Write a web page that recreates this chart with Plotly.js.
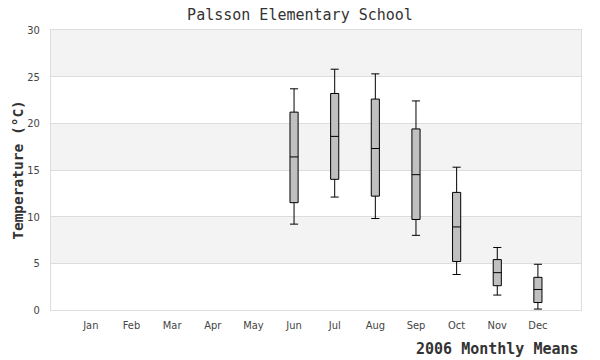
<!DOCTYPE html>
<html><head><meta charset="utf-8">
<script src="https://cdn.plot.ly/plotly-3.0.1.min.js"></script>
<style>body{margin:0}#c{width:600px;height:360px}</style>
</head><body><div id="c"></div>
<script>
const months = ['Jan','Feb','Mar','Apr','May','Jun','Jul','Aug','Sep','Oct','Nov','Dec'];
const lowerWhisker = [null,null,null,null,null,9.2,12.1,9.8,8.0,3.8,1.6,0.1];
const q1Values     = [null,null,null,null,null,11.5,14.0,12.2,9.7,5.2,2.6,0.8];
const medianValues = [null,null,null,null,null,16.4,18.6,17.3,14.5,8.9,4.0,2.2];
const q3Values     = [null,null,null,null,null,21.2,23.2,22.6,19.4,12.6,5.4,3.5];
const upperWhisker = [null,null,null,null,null,23.7,25.8,25.3,22.4,15.3,6.7,4.9];
const yTicks = [0,5,10,15,20,25,30];

// keep only months that have data (others are empty categories)
const idx = months.map((m,i)=>i).filter(i => medianValues[i] !== null);
const pick = arr => idx.map(i => arr[i]);

const shapes = [];
for (let i = 0; i < yTicks.length - 1; i++) {
  if (i % 2 === 1) {
    shapes.push({type:'rect', xref:'paper', yref:'y', x0:0, x1:1, y0:yTicks[i], y1:yTicks[i+1],
      fillcolor:'#f3f3f3', line:{width:0}, layer:'below'});
  }
}

const trace = {
  type:'box', x: pick(months), q1: pick(q1Values), median: pick(medianValues), q3: pick(q3Values),
  lowerfence: pick(lowerWhisker), upperfence: pick(upperWhisker),
  fillcolor:'#c0c0c0', line:{color:'#000', width:1}, whiskerwidth:1,
  width:0.2, boxpoints:false, hoverinfo:'skip', showlegend:false
};

const layout = {
  width:600, height:360, paper_bgcolor:'#fff', plot_bgcolor:'rgba(0,0,0,0)',
  margin:{l:51, r:19, t:30, b:50},
  title:{text:'Palsson Elementary School', x:0.5, xanchor:'center', y:0.975, yanchor:'top',
    font:{family:'DejaVu Sans Mono', size:15, color:'#333'}},
  xaxis:{type:'category', categoryarray: months, categoryorder:'array', range:[-0.98,12.06],
    showgrid:false, zeroline:false, ticks:'outside', ticklen:5, tickcolor:'rgba(0,0,0,0)',
    showline:true, linecolor:'#dddddd', mirror:true,
    tickfont:{family:'DejaVu Sans Condensed', size:11, color:'#444'}},
  yaxis:{range:[0,30], tickvals:yTicks, showgrid:true, gridcolor:'#dddddd', zeroline:false,
    showline:true, linecolor:'#dddddd', mirror:true, ticks:'outside', ticklen:8, tickcolor:'rgba(0,0,0,0)',
    tickfont:{family:'DejaVu Sans Condensed', size:11, color:'#444'},
    title:{text:'<b>Temperature (°C)</b>', standoff:0, font:{family:'DejaVu Sans Mono', size:14.5, color:'#333'}}},
  shapes: shapes,
  annotations:[{text:'<b>2006 Monthly Means</b>', xref:'paper', yref:'paper', x:1.0, xanchor:'right',
    y:-0.1, yanchor:'top', showarrow:false, font:{family:'DejaVu Sans Mono', size:15, color:'#333'}}]
};
Plotly.newPlot('c', [trace], layout, {staticPlot:true});
</script></body></html>
